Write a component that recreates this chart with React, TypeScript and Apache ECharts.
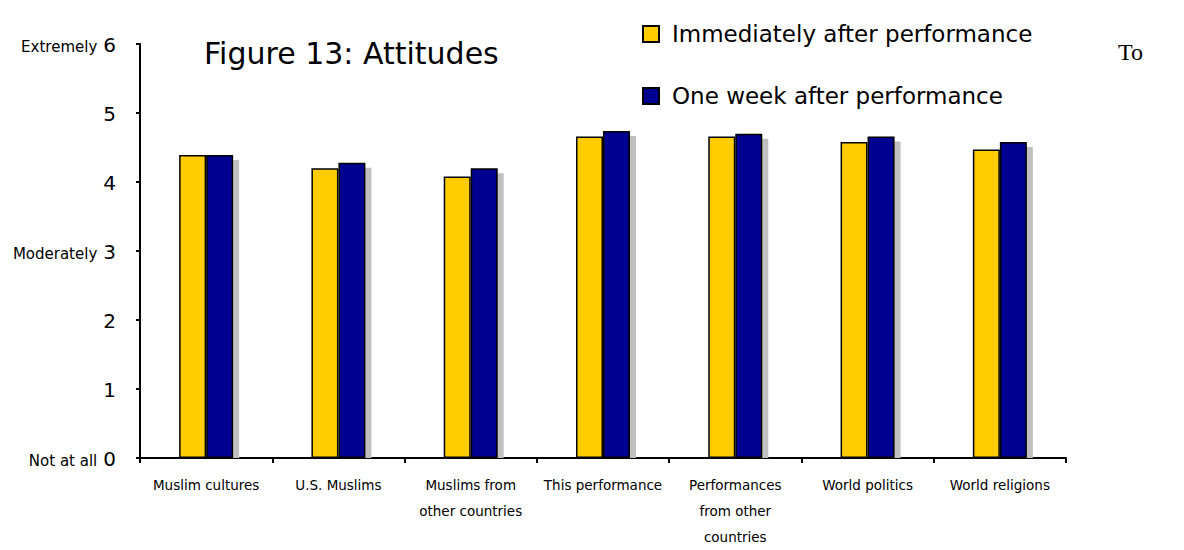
import React, { useEffect, useRef } from "react";
import * as echarts from "echarts";

// Survey topics (line breaks as printed under the axis)
const categories = [
  "Muslim cultures",
  "U.S. Muslims",
  "Muslims from\nother countries",
  "This performance",
  "Performances\nfrom other\ncountries",
  "World politics",
  "World religions",
];

const immediateValues = [4.39, 4.2, 4.08, 4.66, 4.66, 4.58, 4.47];
const weekLaterValues = [4.39, 4.28, 4.2, 4.74, 4.7, 4.66, 4.58];

const seriesNames = ["Immediately after performance", "One week after performance"];

// Verbal anchors next to some of the numeric ticks
const scaleAnchors: Record<number, string> = {
  0: "Not at all",
  3: "Moderately",
  6: "Extremely",
};

const FONT = "DejaVu Sans";
const BAR_W = 27;

export default function App() {
  const ref = useRef<HTMLDivElement>(null);

  useEffect(() => {
    document.body.style.margin = "0";
    if (!ref.current) return;
    const chart = echarts.init(ref.current, undefined, { renderer: "svg" });

    chart.setOption({
      animation: false,
      backgroundColor: "#ffffff",
      textStyle: { fontFamily: FONT, color: "#000" },
      grid: { left: 140, right: 118, top: 44, bottom: 90, containLabel: false },
      legend: {
        data: seriesNames,
        orient: "vertical",
        left: 642,
        top: 21,
        padding: 0,
        itemWidth: 16,
        itemHeight: 16,
        itemGap: 36,
        icon: "rect",
        textStyle: { fontFamily: FONT, fontSize: 23, color: "#000", lineHeight: 26, padding: [0, 0, 0, 8] },
      },
      graphic: [
        {
          type: "text",
          left: 204,
          top: 38,
          style: { text: "Figure 13: Attitudes", font: `30px "${FONT}"`, fill: "#000" },
        },
        {
          type: "text",
          left: 1118,
          top: 40,
          style: { text: "To", font: `24px "Liberation Serif"`, fill: "#000" },
        },
      ],
      xAxis: {
        type: "category",
        data: categories,
        boundaryGap: true,
        axisLine: { show: true, lineStyle: { color: "#000", width: 2 } },
        axisTick: { show: true, length: 5, lineStyle: { color: "#000", width: 2 } },
        axisLabel: {
          interval: 0,
          margin: 14,
          fontFamily: FONT,
          fontSize: 13.5,
          lineHeight: 26,
          color: "#000",
        },
        splitLine: { show: false },
      },
      yAxis: {
        type: "value",
        min: 0,
        max: 6,
        interval: 1,
        axisLine: { show: true, lineStyle: { color: "#000", width: 2 } },
        axisTick: { show: true, length: 4, lineStyle: { color: "#000", width: 2 } },
        splitLine: { show: false },
        axisLabel: {
          margin: 24,
          formatter: (v: number) =>
            scaleAnchors[v] ? `{s|${scaleAnchors[v]}}{n|${v}}` : `{n|${v}}`,
          rich: {
            s: { fontFamily: FONT, fontSize: 15, color: "#000", padding: [0, 6, 1, 0], verticalAlign: "bottom", lineHeight: 22 },
            n: { fontFamily: FONT, fontSize: 20, color: "#000", verticalAlign: "bottom", lineHeight: 22 },
          },
        },
      },
      series: [
        {
          // drop shadow behind the second bar of each pair
          type: "custom",
          silent: true,
          z: 1,
          data: weekLaterValues.map((v, i) => [i, v]),
          renderItem: (_params: any, api: any) => {
            const idx = api.value(0);
            const val = api.value(1);
            const top = api.coord([idx, val]);
            const base = api.coord([idx, 0]);
            return {
              type: "rect",
              shape: { x: top[0] + 6, y: top[1] + 5, width: BAR_W, height: base[1] - top[1] - 5 },
              style: { fill: "#c0c0c0" },
            };
          },
        },
        {
          name: seriesNames[0],
          type: "bar",
          z: 2,
          barWidth: BAR_W,
          barGap: "0%",
          data: immediateValues,
          itemStyle: { color: "#ffcc00", borderColor: "#000", borderWidth: 1.5 },
        },
        {
          name: seriesNames[1],
          type: "bar",
          z: 2,
          barWidth: BAR_W,
          barGap: "0%",
          data: weekLaterValues,
          itemStyle: { color: "#000090", borderColor: "#000", borderWidth: 1.5 },
        },
      ],
    });

    return () => chart.dispose();
  }, []);

  return <div ref={ref} style={{ width: 1184, height: 550 }} />;
}
